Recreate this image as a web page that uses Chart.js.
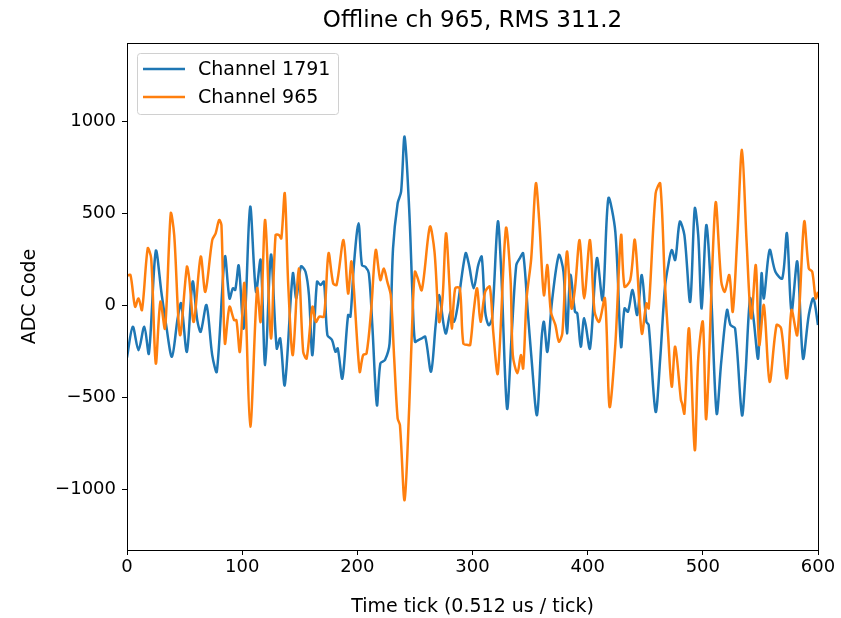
<!DOCTYPE html>
<html>
<head>
<meta charset="utf-8">
<script src="https://cdn.jsdelivr.net/npm/chart.js@4"></script>
<style>
  html, body { margin: 0; padding: 0; background: #fff; }
  #wrap { width: 841px; height: 618px; }
</style>
</head>
<body>
<div id="wrap"><canvas id="chart" width="841" height="618"></canvas></div>
<script>
// values (ticks, ADC code)
const blueTicks = [0,5,10,15,19,25,30,34,39,44,47,52,57,61,64,69,74,78,85,89,92,94,97,101,103,107,112,116,120,125,130,133,137,144,147,151,155,158,161,165,168,171,174,178,181,183,187,192,194,197,201,204,207,210,213,217,220,224,228,231,235,238,241,245,248,250,253,256,259,264,268,271,275,277,281,284,287,294,297,301,305,308,311,314,317,322,325,330,334,338,341,344,348,351,356,360,362,365,369,375,379,382,385,389,391,394,397,402,408,413,418,424,429,432,435,439,443,447,451,453,459,463,467,470,473,476,480,484,489,493,496,499,503,507,512,516,521,524,528,534,537,541,544,548,551,553,558,563,569,573,577,582,587,592,596,600];
const blueValues = [-285,-118,-245,-118,-263,294,63,-109,-281,-72,9,-254,127,-82,-145,0,-272,-362,263,36,91,82,215,-127,0,535,72,245,-326,275,-236,-181,-435,172,36,210,181,54,-272,127,109,127,-163,-190,-254,-236,-399,-54,-63,217,444,217,208,172,-109,-544,-317,-299,-208,308,553,616,915,525,36,-199,-190,-181,-172,-362,-109,54,-109,-154,-36,-91,-9,281,217,91,217,263,-36,-109,-72,453,172,-562,-163,217,254,281,-36,-272,-598,-181,-91,-254,18,272,181,-154,163,-36,-45,-226,-72,-236,254,27,580,399,-226,-18,-36,82,-54,163,-91,-109,-580,-290,91,217,299,245,453,380,18,525,380,-18,435,91,-589,-308,-27,-109,-127,-598,-380,36,-72,-290,172,36,299,181,145,390,-36,236,-290,-54,36,-109];

const orangeTicks = [0,3,7,10,13,18,21,25,29,33,38,41,46,52,54,58,64,68,74,77,80,82,85,89,93,95,98,102,107,113,116,120,125,129,132,134,137,140,144,149,153,156,161,164,167,171,175,179,182,188,192,195,202,205,208,212,216,220,223,226,229,232,235,237,241,245,248,250,252,256,263,267,271,274,277,280,282,285,289,292,296,298,301,304,307,311,315,318,322,329,333,335,339,342,344,347,351,355,358,362,365,368,372,375,378,382,386,389,393,397,402,406,410,415,419,424,429,432,437,441,447,451,453,459,463,467,470,473,476,481,482,484,488,493,496,500,503,511,516,519,523,526,530,534,538,542,546,549,553,558,564,568,573,577,582,588,592,595,598,600];
const orangeValues = [160,163,-9,36,-27,308,254,-317,18,-127,498,380,-163,208,145,-91,263,72,353,390,462,435,-208,-9,-82,-82,-254,118,-661,91,-91,462,-181,380,380,362,607,109,-272,199,-254,-290,-9,-91,-63,-63,281,118,109,353,63,236,-362,-272,-263,-27,299,136,199,127,54,-290,-616,-652,-1060,-562,-36,181,154,82,426,290,-91,36,390,109,-127,91,91,-208,-217,-217,-36,91,-91,72,100,-145,-371,417,145,-272,-371,-272,-344,36,254,661,453,54,217,-36,-109,-199,-154,290,-18,91,353,36,353,-36,-91,36,-553,-217,380,100,136,353,-154,9,-18,607,661,127,-181,-444,-226,-516,-534,-589,-127,-788,-290,-91,-616,553,127,72,163,-36,380,843,344,-72,217,-217,0,-417,-109,-127,-399,-27,-163,453,199,181,36,72];

const seriesNames = ['Channel 1791', 'Channel 965'];
const seriesColors = ['#1f77b4', '#ff7f0e'];
const xTickLabels = [0, 100, 200, 300, 400, 500, 600];
const yTickLabels = [-1000, -500, 0, 500, 1000];

const FONT = 'DejaVu Sans';
const minus = v => String(v).replace('-', '\u2212');

// box around the plot + title + legend inside it, matplotlib style
const framePlugin = {
  id: 'frame',
  afterDraw(chart) {
    const { ctx, chartArea: a } = chart;
    ctx.save();
    ctx.strokeStyle = '#000';
    ctx.lineWidth = 1;
    ctx.strokeRect(a.left + 0.5, a.top + 0.5, a.right - a.left, a.bottom - a.top);

    // title
    ctx.fillStyle = '#000';
    ctx.font = '23px ' + FONT;
    ctx.textAlign = 'center';
    ctx.textBaseline = 'middle';
    ctx.fillText('Offline ch 965, RMS 311.2', (a.left + a.right) / 2, 21);

    // legend
    const lx = a.left + 10, ly = a.top + 10;
    ctx.fillStyle = 'rgba(255,255,255,0.8)';
    ctx.strokeStyle = '#d0d0d0';
    ctx.beginPath();
    ctx.roundRect(lx + 0.5, ly + 0.5, 201, 61, 3);
    ctx.fill();
    ctx.stroke();
    ctx.font = '19px ' + FONT;
    ctx.textAlign = 'left';
    seriesNames.forEach((name, i) => {
      const y = ly + 16 + i * 28;
      ctx.strokeStyle = seriesColors[i];
      ctx.lineWidth = 2.5;
      ctx.beginPath();
      ctx.moveTo(lx + 6, y);
      ctx.lineTo(lx + 48, y);
      ctx.stroke();
      ctx.fillStyle = '#000';
      ctx.fillText(name, lx + 61, y + 1);
    });
    ctx.restore();
  }
};

new Chart(document.getElementById('chart'), {
  type: 'line',
  data: {
    datasets: [
      {
        label: seriesNames[0],
        data: blueTicks.map((t, i) => ({ x: t, y: blueValues[i] })),
        borderColor: seriesColors[0],
        borderWidth: 2.5,
        pointRadius: 0,
        tension: 0.3,
        order: 1
      },
      {
        label: seriesNames[1],
        data: orangeTicks.map((t, i) => ({ x: t, y: orangeValues[i] })),
        borderColor: seriesColors[1],
        borderWidth: 2.5,
        pointRadius: 0,
        tension: 0.3,
        order: 0
      }
    ]
  },
  options: {
    responsive: false,
    animation: false,
    layout: { padding: { left: 0, top: 43, right: 23, bottom: 0 } },
    plugins: {
      legend: { display: false },
      title: { display: false },
      tooltip: { enabled: false }
    },
    scales: {
      x: {
        type: 'linear',
        min: 0,
        max: 600,
        afterBuildTicks: s => { s.ticks = xTickLabels.map(v => ({ value: v })); },
        afterFit: s => { s.height = 68; },
        grid: { drawOnChartArea: false, drawTicks: true, tickLength: 5, color: '#000' },
        border: { color: '#000' },
        ticks: { color: '#000', font: { family: FONT, size: 18 }, padding: 2, maxRotation: 0 },
        title: { display: true, text: 'Time tick (0.512 us / tick)', color: '#000', font: { family: FONT, size: 19 }, padding: { top: 0, bottom: 0 } }
      },
      y: {
        min: -1331,
        max: 1424,
        afterBuildTicks: s => { s.ticks = yTickLabels.map(v => ({ value: v })); },
        afterFit: s => { s.width = 127; },
        grid: { drawOnChartArea: false, drawTicks: true, tickLength: 5, color: '#000' },
        border: { color: '#000' },
        ticks: { color: '#000', font: { family: FONT, size: 18 }, padding: 6, callback: v => minus(v) },
        title: { display: true, text: 'ADC Code', color: '#000', font: { family: FONT, size: 19 }, padding: { top: 19, bottom: 0 } }
      }
    }
  },
  plugins: [framePlugin]
});
</script>
</body>
</html>
